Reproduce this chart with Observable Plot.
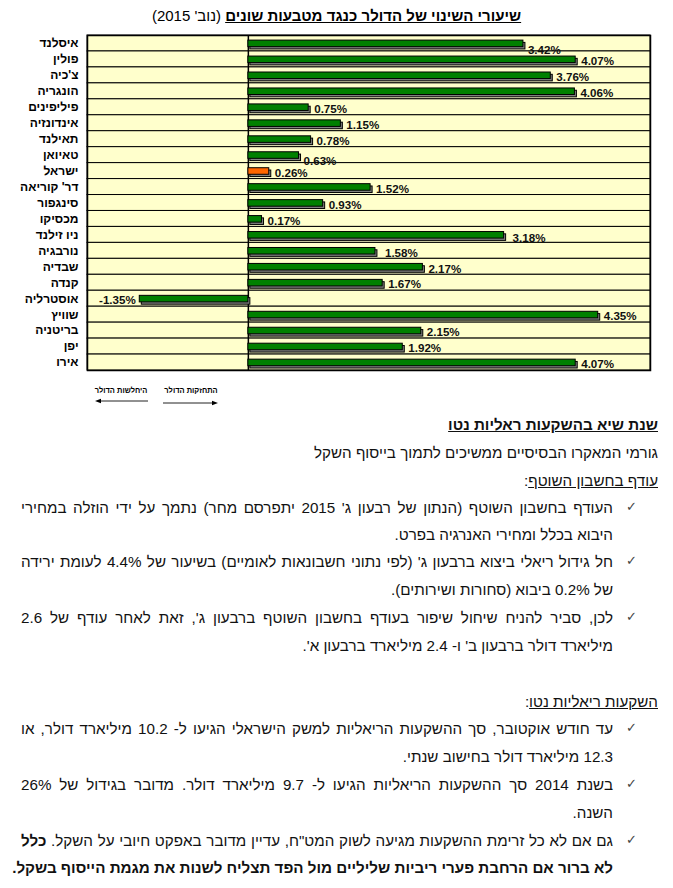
<!DOCTYPE html>
<html lang="he">
<head>
<meta charset="utf-8">
<script src="https://cdn.jsdelivr.net/npm/d3@7"></script>
<script src="https://cdn.jsdelivr.net/npm/@observablehq/plot@0.6"></script>
<style>
  html, body { margin: 0; padding: 0; }
  body { width: 673px; height: 888px; position: relative; overflow: hidden; background: #fff;
         font-family: Arial, "Liberation Sans", sans-serif; color: #111; }
  .abs { position: absolute; }
  #title { left: 0; width: 673px; top: 6px; text-align: center; font-size: 15px; line-height: 20px; direction: rtl; color: #000; }
  #title u { font-weight: bold; }
  #chart { left: 0; top: 30px; }
  #chart svg { display: block; }
  #legend { left: 0; top: 375px; }
  .line { position: absolute; direction: rtl; font-size: 15.2px; line-height: 20px; white-space: nowrap; }
  .full { left: 21px; width: 592px; text-align: justify; text-align-last: justify; }
  .cont { right: 60px; text-align: right; }
  .head { right: 15px; text-align: right; }
  .check { position: absolute; left: 626px; font-family: "DejaVu Sans", sans-serif; font-size: 13px; color: #444; line-height: 20px; }
</style>
</head>
<body>
<div id="title" class="abs"><u>שיעורי השינוי של הדולר כנגד מטבעות שונים</u> (נוב' 2015)</div>
<div id="chart" class="abs"></div>
<div id="legend" class="abs">
  <svg width="673" height="36" xmlns="http://www.w3.org/2000/svg" font-family="Arial, 'Liberation Sans', sans-serif">
    <text x="191" y="18" font-size="7.5" font-weight="bold" text-anchor="middle" direction="rtl">התחזקות הדולר</text>
    <text x="121" y="18" font-size="7.5" font-weight="bold" text-anchor="middle" direction="rtl">היחלשות הדולר</text>
    <line x1="163" y1="28" x2="213" y2="28" stroke="#222" stroke-width="1"/>
    <polygon points="218,28 212,25.8 212,30.2" fill="#000"/>
    <line x1="100" y1="26" x2="148" y2="26" stroke="#222" stroke-width="1"/>
    <polygon points="95,26 101,23.8 101,28.2" fill="#000"/>
  </svg>
</div>
<div id="text"></div>
<script>
// ---- data ----
const countries = ["איסלנד","פולין","צ'כיה","הונגריה","פיליפינים","אינדונזיה","תאילנד","טאיואן","ישראל","דר' קוריאה","סינגפור","מכסיקו","ניו זילנד","נורבגיה","שבדיה","קנדה","אוסטרליה","שוויץ","בריטניה","יפן","אירו"];
const changes   = [3.42, 4.07, 3.76, 4.06, 0.75, 1.15, 0.78, 0.63, 0.26, 1.52, 0.93, 0.17, 3.18, 1.58, 2.17, 1.67, -1.35, 4.35, 2.15, 1.92, 4.07];
const highlighted = ["ישראל"];
const xDomain = [-2, 5];

// label nudges (style only, as in the original chart)
const labelNudge = { "איסלנד": [-1, 5], "טאיואן": [-1, 4], "ניו זילנד": [3, 1.5], "נורבגיה": [4, 0.5] };

const data = countries.map((c, i) => ({ country: c, value: changes[i] }));
const fmt = d => d.value.toFixed(2) + "%";
const labelFont = "'Liberation Sans Narrow','Arial Narrow',Arial,sans-serif";
const lab = { fontSize: 11.6, fontFamily: labelFont, fontWeight: "bold", fill: "#111" };

const textMarks = [];
textMarks.push(Plot.text(data.filter(d => d.value >= 0 && !(d.country in labelNudge)),
  { x: "value", y: "country", text: fmt, textAnchor: "start", dx: 5.5, dy: 2, ...lab }));
textMarks.push(Plot.text(data.filter(d => d.value < 0),
  { x: "value", y: "country", text: fmt, textAnchor: "end", dx: -4, dy: 2, ...lab }));
for (const [c, [dx, dy]] of Object.entries(labelNudge)) {
  textMarks.push(Plot.text(data.filter(d => d.country === c),
    { x: "value", y: "country", text: fmt, textAnchor: "start", dx: 5.5 + dx, dy: 2 + dy, ...lab }));
}

const chart = Plot.plot({
  width: 673, height: 343,
  marginLeft: 87, marginRight: 23, marginTop: 5, marginBottom: 3,
  x: { domain: xDomain, axis: null },
  y: { domain: countries, padding: 0, round: false, axis: null },
  color: { type: "identity" },
  style: { background: "transparent", fontFamily: "Arial, 'Liberation Sans', sans-serif" },
  marks: [
    Plot.cell(countries, { y: d => d, fill: "#FFFFCC", stroke: "#000", strokeWidth: 1, inset: 0 }),
    Plot.ruleX([0], { stroke: "#000", strokeWidth: 1.5 }),
    Plot.barX(data, { x: "value", y: "country", fill: "#808080", stroke: "#000", strokeWidth: 1, dx: 2, dy: 2.3, insetTop: 5.1, insetBottom: 4.3 }),
    Plot.barX(data, { x: "value", y: "country",
      fill: d => highlighted.includes(d.country) ? "#FF6600" : "#008000",
      stroke: "#000", strokeWidth: 1, insetTop: 5.1, insetBottom: 4.3 }),
    ...textMarks,
    Plot.axisY({ tickSize: 0, tickPadding: 9, fontSize: 12, fontWeight: "bold", label: null, fill: "#000" }),
    Plot.frame({ stroke: "#000", strokeWidth: 1.5 })
  ]
});
document.getElementById("chart").appendChild(chart);

// ---- text block ----
const lines = [
  { c: 426, cls: "head", html: "<b><u>שנת שיא בהשקעות ראליות נטו</u></b>" },
  { c: 454, cls: "head", html: "גורמי המאקרו הבסיסיים ממשיכים לתמוך בייסוף השקל" },
  { c: 482, cls: "head", html: "<u>עודף בחשבון השוטף</u>:" },
  { c: 509, cls: "full", chk: true, html: "העודף בחשבון השוטף (הנתון של רבעון ג' 2015 יתפרסם מחר) נתמך על ידי הוזלה במחירי" },
  { c: 536, cls: "cont", html: "היבוא בכלל ומחירי האנרגיה בפרט." },
  { c: 563, cls: "full", chk: true, html: "חל גידול ריאלי ביצוא ברבעון ג' (לפי נתוני חשבונאות לאומיים) בשיעור של 4.4% לעומת ירידה" },
  { c: 591, cls: "cont", html: "של 0.2% ביבוא (סחורות ושירותים)." },
  { c: 619, cls: "full", chk: true, html: "לכן, סביר להניח שיחול שיפור בעודף בחשבון השוטף ברבעון ג', זאת לאחר עודף של 2.6" },
  { c: 647, cls: "cont", html: "מיליארד דולר ברבעון ב' ו- 2.4 מיליארד ברבעון א'." },
  { c: 703, cls: "head", html: "<u>השקעות ריאליות נטו</u>:" },
  { c: 730, cls: "full", chk: true, html: "עד חודש אוקטובר, סך ההשקעות הריאליות למשק הישראלי הגיעו ל- 10.2 מיליארד דולר, או" },
  { c: 758, cls: "cont", html: "12.3 מיליארד דולר בחישוב שנתי." },
  { c: 786, cls: "full", chk: true, html: "בשנת 2014 סך ההשקעות הריאליות הגיעו ל- 9.7 מיליארד דולר. מדובר בגידול של 26%" },
  { c: 814, cls: "cont", html: "השנה." },
  { c: 842, cls: "full", chk: true, html: "גם אם לא כל זרימת ההשקעות מגיעה לשוק המט\"ח, עדיין מדובר באפקט חיובי על השקל. <b>כלל</b>" },
  { c: 869, cls: "cont", html: "<b>לא ברור אם הרחבת פערי ריביות שליליים מול הפד תצליח לשנות את מגמת הייסוף בשקל.</b>" }
];
const host = document.getElementById("text");
for (const l of lines) {
  const div = document.createElement("div");
  div.className = "line " + l.cls;
  div.style.top = (l.c - 11) + "px";
  div.innerHTML = l.html;
  host.appendChild(div);
  if (l.chk) {
    const ck = document.createElement("div");
    ck.className = "check";
    ck.style.top = (l.c - 12) + "px";
    ck.textContent = "✓";
    host.appendChild(ck);
  }
}
</script>
</body>
</html>
